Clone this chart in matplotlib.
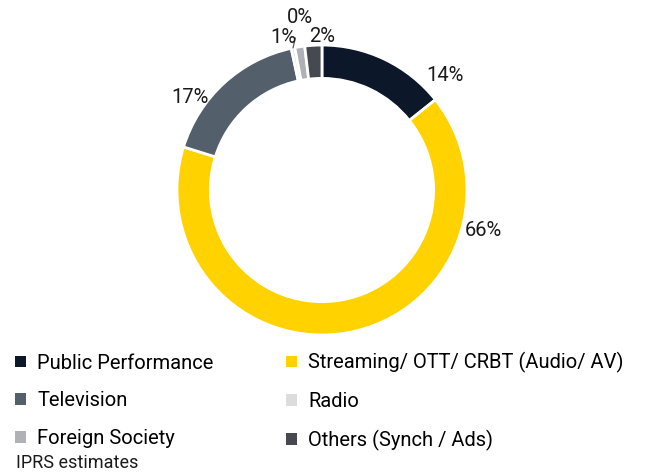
import numpy as np
import matplotlib
matplotlib.use('Agg')
import matplotlib.pyplot as plt
from matplotlib.patches import Patch

plt.rcParams['font.family'] = ['Roboto', 'DejaVu Sans']

# data (share of revenue, %)
categories = ['Public Performance', 'Streaming/ OTT/ CRBT (Audio/ AV)', 'Television',
              'Radio', 'Foreign Society', 'Others (Synch / Ads)']
shares = [14.3, 65.5, 16.8, 0.4, 1.1, 1.9]
labels = ['14%', '66%', '17%', '0%', '1%', '2%']
colors = ['#0c1729', '#ffd200', '#535f6b', '#dcdcdc', '#aeb2b6', '#46494f']

# where each data label sits (in units of the outer radius)
label_pos = [(0.85, 0.79), (1.11, -0.28), (-0.91, 0.64), (-0.15, 1.19), (-0.265, 1.05), (0.0, 1.06)]

fig = plt.figure(figsize=(6.54, 4.74), dpi=100)
ax = fig.add_axes([0.2706, 0.2932, 0.4434, 0.6118])

wedges, _ = ax.pie(shares, colors=colors, startangle=90, counterclock=False,
                   radius=1.0, wedgeprops=dict(width=0.23, edgecolor='white', linewidth=2))
ax.set_xlim(-1, 1)
ax.set_ylim(-1, 1)
ax.set_aspect('equal')
ax.set_axis_off()

for w, lab, (lx, ly) in zip(wedges, labels, label_pos):
    if lab == '0%':
        # tiny slice: label pulled up with a leader line
        ang = np.deg2rad((w.theta1 + w.theta2) / 2)
        ax.annotate(lab, xy=(np.cos(ang), np.sin(ang)), xytext=(lx, ly),
                    ha='center', va='center', fontsize=14.5, color='#1a1a1a',
                    arrowprops=dict(arrowstyle='-', color='#555e6a', lw=0.9,
                                    shrinkA=6, shrinkB=0))
    else:
        ax.text(lx, ly, lab, ha='center', va='center', fontsize=14.5, color='#1a1a1a')

# legend, row-major order
handles = [Patch(facecolor=c, edgecolor='none') for c in colors]
order = [0, 2, 4, 1, 3, 5]
fig.legend([handles[i] for i in order], [categories[i] for i in order],
           loc='upper left', bbox_to_anchor=(0.023, 0.257), ncol=2, frameon=False,
           fontsize=14.5, handlelength=0.52, handleheight=0.52, handletextpad=0.58,
           labelspacing=0.93, columnspacing=3.6, borderaxespad=0, borderpad=0)

fig.text(0.024, 0.024, 'IPRS estimates', fontsize=13, color='#1a1a1a', ha='left', va='center')

plt.savefig('out.png', dpi=100)
